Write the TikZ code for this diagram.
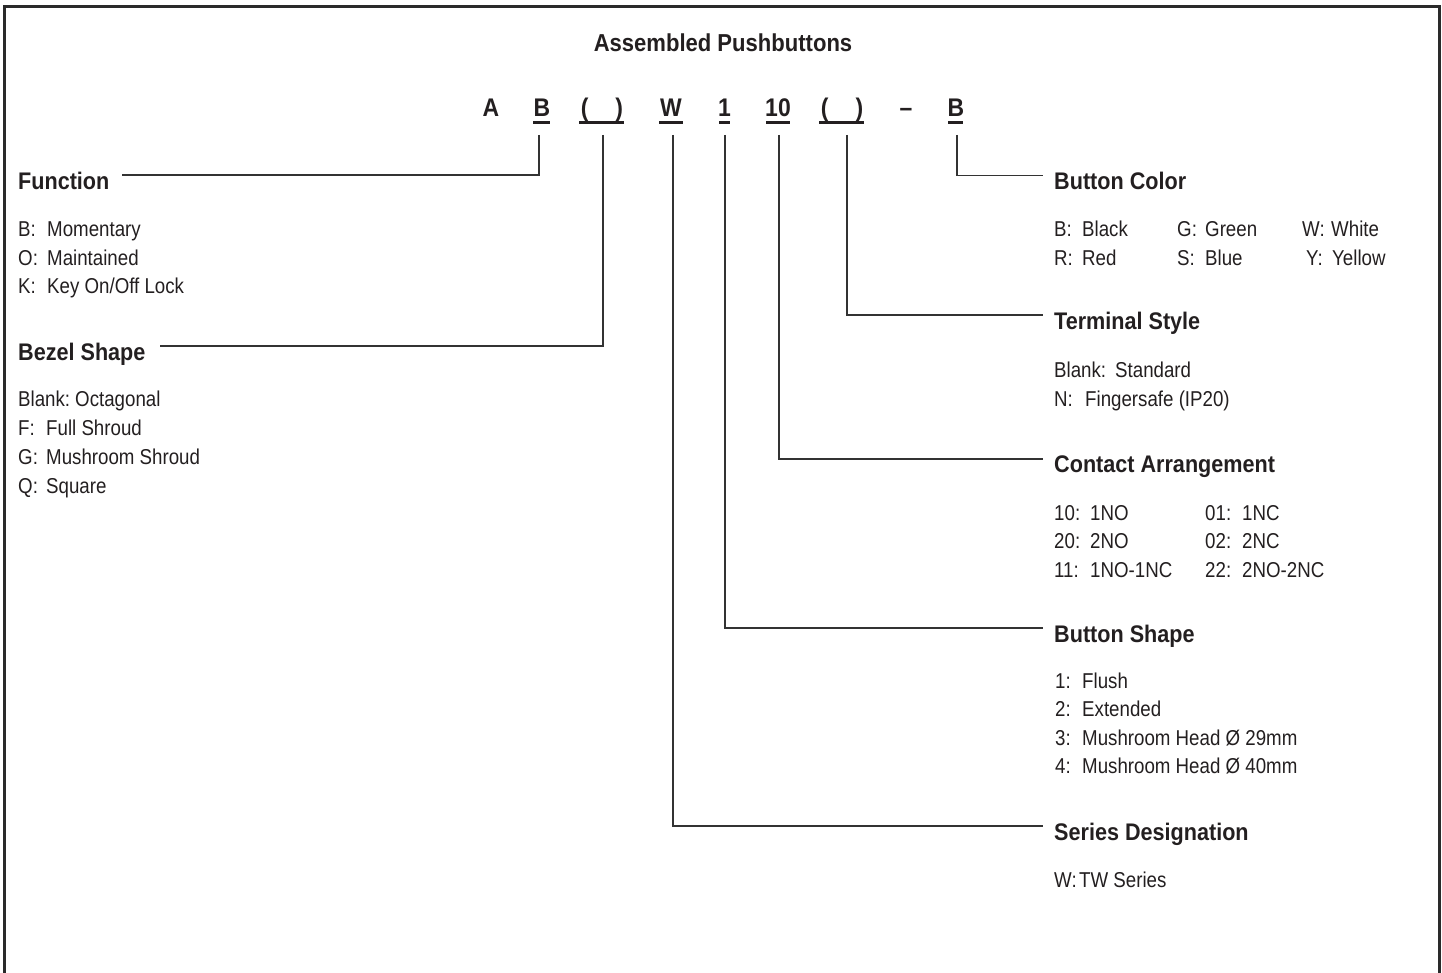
\documentclass[tikz,border=0pt]{standalone}
\usepackage{fontspec}
\setmainfont{Liberation Sans}[FakeStretch=0.87]
\newfontfamily\hdfont{Liberation Sans}[FakeStretch=0.9]
\usetikzlibrary{calc}
\definecolor{ink}{HTML}{231F20}
\definecolor{rulec}{HTML}{333333}
\definecolor{framec}{HTML}{2A2A2A}
\begin{document}
\begin{tikzpicture}[x=1pt,y=-1pt,
  hd/.style={anchor=base west, inner sep=0pt, text=ink, font=\hdfont\bfseries\fontsize{24}{28}\selectfont},
  ttl/.style={anchor=base, inner sep=0pt, text=ink, font=\hdfont\bfseries\fontsize{24.5}{28}\selectfont},
  code/.style={anchor=base, inner sep=0pt, text=ink, font=\hdfont\bfseries\fontsize{25.5}{30}\selectfont},
  it/.style={anchor=base west, inner sep=0pt, text=ink, font=\fontsize{21.5}{25}\selectfont},
  conn/.style={draw=rulec, line width=1.4pt},
  uline/.style={draw=ink, line width=2.2pt},
  frame/.style={draw=framec, line width=3pt}]
\useasboundingbox (0,0) rectangle (1442,973);
% frame (open at the bottom)
\draw[frame] (4.5,980) -- (4.5,6.5) -- (1439.5,6.5) -- (1439.5,980);

% title
\node[ttl] (title) at (723,52) {Assembled Pushbuttons};

% code line
\node[code] (cA)  at (491,117) {A};
\node[code] (cB)  at (542,117) {B};
\node[code] (cP1) at (602,117) {(\hspace{27pt})};
\node[code] (cW)  at (671,117) {W};
\node[code] (c1)  at (724.5,117) {1};
\node[code] (c10) at (778,117) {10};
\node[code] (cP2) at (842,117) {(\hspace{27pt})};
\node[code] (cD)  at (906,117) {–};
\node[code] (cB2) at (956,117) {B};

% underlines
\draw[uline] (533,122.5) -- (550,122.5);
\draw[uline] (579,122.5) -- (624,122.5);
\draw[uline] (659,122.5) -- (683,122.5);
\draw[uline] (719,122.5) -- (730,122.5);
\draw[uline] (766,122.5) -- (790,122.5);
\draw[uline] (819,122.5) -- (864,122.5);
\draw[uline] (948,122.5) -- (963,122.5);

% connector start points
\coordinate (tB)  at (539,135);
\coordinate (tP1) at (603,135);
\coordinate (tW)  at (673,135);
\coordinate (t1)  at (725,135);
\coordinate (t10) at (779,135);
\coordinate (tP2) at (847,135);
\coordinate (tB2) at (957,135);
% connector end points
\coordinate (eFunc) at (122,175);
\coordinate (eBez)  at (160,346);
\coordinate (eCol)  at (1043,175.5);
\coordinate (eTerm) at (1043,315);
\coordinate (eCon)  at (1043,459);
\coordinate (eBtn)  at (1043,628);
\coordinate (eSer)  at (1043,826);

\draw[conn] (tB) |- (eFunc);
\draw[conn] (tP1) |- (eBez);
\draw[conn] (tB2) |- (eCol);
\draw[conn] (tP2) |- (eTerm);
\draw[conn] (t10) |- (eCon);
\draw[conn] (t1) |- (eBtn);
\draw[conn] (tW) |- (eSer);

% ---- left column ----
\node[hd] (hFunc) at (18,189.5) {Function};
\node[it] (f1k) at (18,237) {B:};  \node[it] (f1v) at (47,237) {Momentary};
\node[it] (f2k) at (18,265.5) {O:};  \node[it] (f2v) at (47,265.5) {Maintained};
\node[it] (f3k) at (18,294) {K:};  \node[it] (f3v) at (47,294) {Key On/Off Lock};

\node[hd] (hBez) at (18,360.5) {Bezel Shape};
\node[it] (b1k) at (18,406) {Blank:}; \node[it] (b1v) at (75,406) {Octagonal};
\node[it] (b2k) at (18,435) {F:};  \node[it] (b2v) at (46,435) {Full Shroud};
\node[it] (b3k) at (18,464) {G:};  \node[it] (b3v) at (46,464) {Mushroom Shroud};
\node[it] (b4k) at (18,493) {Q:};  \node[it] (b4v) at (46,493) {Square};

% ---- right column ----
\node[hd] (hCol) at (1054,190) {Button Color};
\node[it] (k1) at (1054,237) {B:}; \node[it] (v1) at (1082,237) {Black};
\node[it] (k2) at (1177,237) {G:}; \node[it] (v2) at (1205,237) {Green};
\node[it] (k3) at (1302,237) {W:}; \node[it] (v3) at (1331,237) {White};
\node[it] (k4) at (1054,265.5) {R:}; \node[it] (v4) at (1082,265.5) {Red};
\node[it] (k5) at (1177,265.5) {S:}; \node[it] (v5) at (1205,265.5) {Blue};
\node[it] (k6) at (1306,265.5) {Y:}; \node[it] (v6) at (1332,265.5) {Yellow};

\node[hd] (hTerm) at (1054,329.5) {Terminal Style};
\node[it] (tk1) at (1054,377) {Blank:}; \node[it] (tv1) at (1115,377) {Standard};
\node[it] (tk2) at (1054,406) {N:};     \node[it] (tv2) at (1085,406) {Fingersafe (IP20)};

\node[hd] (hCon) at (1054,472.5) {Contact Arrangement};
\node[it] (ak1) at (1054,520) {10:}; \node[it] (av1) at (1090,520) {1NO};
\node[it] (ak2) at (1054,548.5) {20:}; \node[it] (av2) at (1090,548.5) {2NO};
\node[it] (ak3) at (1054,577) {11:}; \node[it] (av3) at (1090,577) {1NO-1NC};
\node[it] (ak4) at (1205,520) {01:}; \node[it] (av4) at (1242,520) {1NC};
\node[it] (ak5) at (1205,548.5) {02:}; \node[it] (av5) at (1242,548.5) {2NC};
\node[it] (ak6) at (1205,577) {22:}; \node[it] (av6) at (1242,577) {2NO-2NC};

\node[hd] (hBtn) at (1054,642.5) {Button Shape};
\node[it] (sk1) at (1055,688) {1:}; \node[it] (sv1) at (1082,688) {Flush};
\node[it] (sk2) at (1055,716.5) {2:}; \node[it] (sv2) at (1082,716.5) {Extended};
\node[it] (sk3) at (1055,745) {3:}; \node[it] (sv3) at (1082,745) {Mushroom Head Ø 29mm};
\node[it] (sk4) at (1055,773.5) {4:}; \node[it] (sv4) at (1082,773.5) {Mushroom Head Ø 40mm};

\node[hd] (hSer) at (1054,840) {Series Designation};
\node[it] (wk1) at (1054,887) {W:}; \node[it] (wv1) at (1079,887) {TW Series};
\end{tikzpicture}
\end{document}
